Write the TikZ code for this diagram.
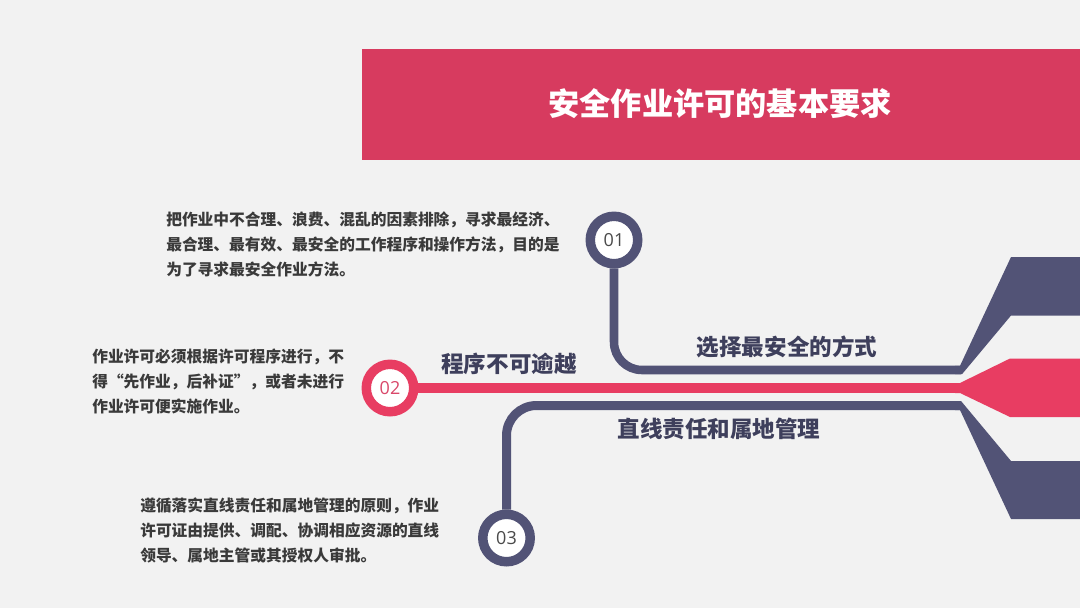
\documentclass[tikz,border=0pt]{standalone}
\usepackage{fontspec}
\setmainfont{Noto Sans CJK SC}
\newfontfamily\digitfont{Open Sans}
\definecolor{bg}{HTML}{F2F2F2}
\definecolor{banner}{HTML}{D73B5F}
\definecolor{redl}{HTML}{E83D62}
\definecolor{slate}{HTML}{525376}
\definecolor{headc}{HTML}{3E3F5C}
\definecolor{parac}{HTML}{3A3A3A}
\definecolor{redtxt}{HTML}{D9486A}
\definecolor{digc}{HTML}{4A4A4A}
\begin{document}
\begin{tikzpicture}[x=0.75pt,y=-0.75pt,
  ring/.style={circle, draw=#1, line width=7.1pt, fill=white, minimum size=35.6pt, inner sep=0pt},
  lbl/.style={font=\digitfont\fontsize{13.5}{14}\selectfont},
  head/.style={font=\bfseries\fontsize{16.9}{18}\selectfont, text=headc, inner sep=0pt},
  para/.style={font=\bfseries\fontsize{11.8}{18.75}\selectfont, text=parac, align=left, inner sep=0pt, anchor=west},
  titlef/.style={font=\bfseries\fontsize{23.4}{26}\selectfont, text=white, inner sep=0pt}]
\fill[bg] (0,0) rectangle (1080,608);
\useasboundingbox (0,0) rectangle (1080,608);
% banner
\fill[banner] (362,49) rectangle (1080,160);
\node[titlef] (title) at (720,104) {安全作业许可的基本要求};
% circles
\node[ring=slate, text=digc, lbl] (c1) at (614,240) {01};
\node[ring=redl, text=redtxt, lbl] (c2) at (390,388) {02};
\node[ring=slate, text=digc, lbl] (c3) at (506.5,538) {03};
% coordinates
\coordinate (k1) at (614,370);
\coordinate (e1) at (961,370);
\coordinate (e2) at (961,388);
\coordinate (k3) at (506.5,405.5);
\coordinate (e3) at (961,405.5);
% connectors
\draw[slate, line width=6.4pt, rounded corners=21pt] (c1.south) -- (k1) -- (e1);
\draw[redl, line width=7.5pt] (c2.east) -- (e2);
\draw[slate, line width=6.75pt, rounded corners=22.5pt] (c3.north) -- (k3) -- (e3);
% wedges
\fill[slate] (955,365.8) -- (960,365.8) -- (1011,257) -- (1080,257) -- (1080,315.5) -- (1011,315.5) -- (962,374.2) -- (955,374.2) -- cycle;
\fill[redl] (955,383) -- (960,383) -- (1010,358.5) -- (1080,358.5) -- (1080,417) -- (1010,417) -- (960,393) -- (955,393) -- cycle;
\fill[slate] (955,401) -- (961,401) -- (1011,461) -- (1080,461) -- (1080,519) -- (1011,519) -- (960,410) -- (955,410) -- cycle;
% headings
\node[head] (h1) at (787,347) {选择最安全的方式};
\node[head] (h2) at (509,364) {程序不可逾越};
\node[head] (h3) at (719,428.5) {直线责任和属地管理};
% paragraphs
\node[para] (p1) at (166,244) {把作业中不合理、浪费、混乱的因素排除，寻求最经济、\\最合理、最有效、最安全的工作程序和操作方法，目的是\\为了寻求最安全作业方法。};
\node[para] (p2) at (92,381) {作业许可必须根据许可程序进行，不\\得“先作业，后补证”，或者未进行\\作业许可便实施作业。};
\node[para] (p3) at (140,530) {遵循落实直线责任和属地管理的原则，作业\\许可证由提供、调配、协调相应资源的直线\\领导、属地主管或其授权人审批。};
\end{tikzpicture}
\end{document}
